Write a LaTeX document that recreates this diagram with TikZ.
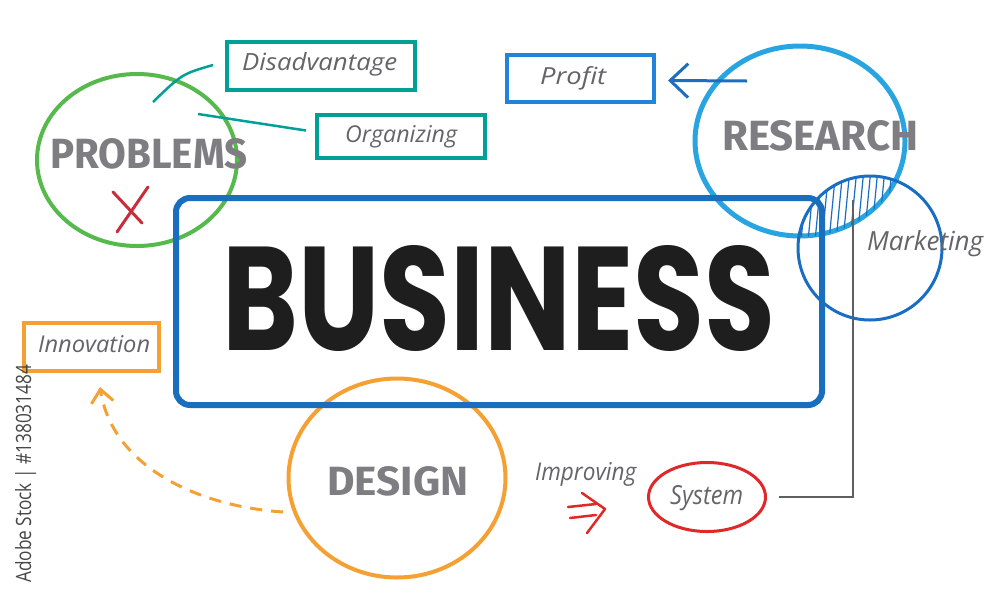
\documentclass[tikz,border=0pt]{standalone}
\usepackage{fontspec}
\usepackage{graphicx}
\usetikzlibrary{shapes.geometric,arrows.meta,calc}
\newfontfamily\handfont{Open Sans}
\newfontfamily\headfont{Fira Sans}
\newfontfamily\bigfont{Poppins}
\newfontfamily\wmfont{Open Sans}
\definecolor{probgreen}{RGB}{85,185,75}
\definecolor{tealc}{RGB}{0,160,150}
\definecolor{profitblue}{RGB}{35,130,220}
\definecolor{arrowblue}{RGB}{30,110,190}
\definecolor{resblue}{RGB}{40,165,225}
\definecolor{mkblue}{RGB}{25,110,195}
\definecolor{bizblue}{RGB}{25,110,190}
\definecolor{orangec}{RGB}{245,160,50}
\definecolor{redc}{RGB}{225,40,40}
\definecolor{xred}{RGB}{200,45,60}
\definecolor{headgray}{RGB}{125,125,130}
\definecolor{labelgray}{RGB}{100,100,105}
\definecolor{linegray}{RGB}{95,95,95}
\definecolor{bizblack}{RGB}{30,30,30}
\definecolor{wmgray}{RGB}{70,70,70}
\newcommand\fitbox[3]{\resizebox{#1pt}{#2pt}{#3}}
\tikzset{
  ring/.style={ellipse, draw, inner sep=0pt},
  labelbox/.style={draw, line width=4pt, inner sep=0pt},
  txt/.style={anchor=base west, inner sep=0pt},
  headtxt/.style={txt, text=headgray},
  handtxt/.style={txt, text=labelgray},
}
\begin{document}
\begin{tikzpicture}[x=1pt,y=-1pt]
\fill[white] (0,0) rectangle (1000,600);
\useasboundingbox (0,0) rectangle (1000,600);

% circles
\node[ring, draw=probgreen, line width=4pt, minimum width=200pt, minimum height=172pt] (problems) at (137,160) {};
\node[ring, draw=resblue, line width=5pt, minimum width=210pt, minimum height=190pt] (research) at (800,141) {};
\node[ring, draw=mkblue, line width=3pt, minimum width=144pt, minimum height=144pt] (marketing) at (870,248) {};
\node[ring, draw=orangec, line width=4pt, minimum width=217pt, minimum height=199pt] (design) at (397,478) {};
\node[ring, draw=redc, line width=3pt, minimum width=117pt, minimum height=69pt] (system) at (707,497) {};

% hatching in research/marketing overlap
\begin{scope}
  \clip (800,141) ellipse [x radius=106pt, y radius=96pt];
  \clip (870,248) circle [radius=72pt];
  \foreach \i in {0,...,30} {
    \draw[mkblue, line width=1.2pt] (778+\i*7,262) -- (787+\i*7,168);
  }
\end{scope}

% boxes
\node[labelbox, draw=tealc, minimum width=188pt, minimum height=48pt] (disadv) at (321,66) {};
\node[labelbox, draw=tealc, minimum width=168pt, minimum height=43pt] (organ) at (401,136.5) {};
\node[labelbox, draw=profitblue, minimum width=147pt, minimum height=47pt] (profit) at (580.5,78.5) {};
\node[labelbox, draw=orangec, minimum width=135pt, minimum height=48pt] (innov) at (91.5,347) {};
\node[draw=bizblue, line width=6pt, rounded corners=14pt, minimum width=646pt, minimum height=207pt, inner sep=0pt] (business) at (499,301.5) {};

% texts
\node[headtxt] (problemsT) at (50,168) {\fitbox{197}{30}{\headfont\bfseries PROBLEMS}};
\node[headtxt] (researchT) at (722,150) {\fitbox{196}{30}{\headfont\bfseries RESEARCH}};
\node[headtxt] (designT) at (327,495) {\fitbox{141}{29}{\headfont\bfseries DESIGN}};
\node[txt, text=bizblack] (businessT) at (222,350) {\fitbox{553}{105}{\bigfont\bfseries BUSINESS}};

\node[handtxt] (disadvT) at (242,70) {\fitbox{155}{18}{\handfont\itshape Disadvantage}};
\node[handtxt] (organT) at (345,142) {\fitbox{112}{17}{\handfont\itshape Organizing}};
\node[handtxt] (profitT) at (540,84) {\fitbox{66}{18}{\handfont\itshape Profit}};
\node[handtxt] (marketingT) at (867,250) {\fitbox{116}{20}{\handfont\itshape Marketing}};
\node[handtxt] (innovT) at (38,352) {\fitbox{112}{17}{\handfont\itshape Innovation}};
\node[handtxt] (improvT) at (535,480) {\fitbox{101}{18}{\handfont\itshape Improving}};
\node[handtxt] (systemT) at (670,504) {\fitbox{73}{19}{\handfont\itshape System}};

% watermark
\node[anchor=base west, inner sep=0pt, rotate=90, text=wmgray] (wm) at (31,583) {\fitbox{218}{16}{\wmfont Adobe Stock | \#138031484}};

% red X
\draw[xred, line width=3pt, line cap=round] (113,192) -- (142,223);
\draw[xred, line width=3pt, line cap=round] (148,187) -- (117,232);

% connectors
\coordinate (pA) at (153,102);
\coordinate (pB) at (198,114);
\draw[tealc, line width=2.5pt] (pA) .. controls (182,74) .. ($(disadv.west)+(-12,-1)$);
\draw[tealc, line width=2.5pt] (pB) -- ($(organ.west)+(-9,-6)$);

\coordinate (rA) at (747,81);
\draw[arrowblue, line width=3pt, -{Straight Barb[length=18pt,width=34pt]}] (rA) -- ($(profit.east)+(12,2)$);

\coordinate (dA) at (283,512);
\draw[orangec, line width=3pt, dash pattern=on 12pt off 9pt, -{Straight Barb[length=13pt,width=22pt]}] (dA) .. controls (195,506) and (112,465) .. ($(innov.south)+(8.5,14)$);

\coordinate (mA) at (853,200);
\draw[linegray, line width=2pt] (mA) |- ($(system.east)+(12,0)$);

% red double arrow
\draw[redc, line width=2.5pt, line cap=round] (568,507) -- (596,504);
\draw[redc, line width=2.5pt, line cap=round] (570,518) -- (596,515);
\draw[redc, line width=2.5pt, line cap=round, line join=round] (582,493) -- (605,509) -- (587,533);
\end{tikzpicture}
\end{document}
